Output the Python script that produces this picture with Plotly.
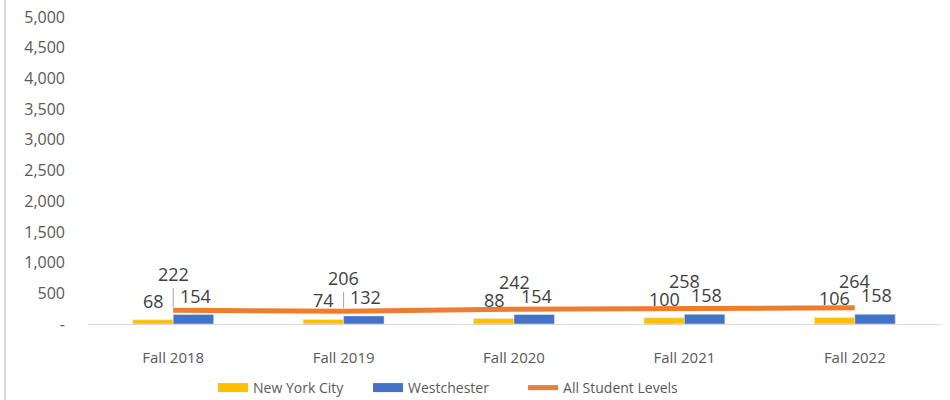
import plotly.graph_objects as go

categories = ["Fall 2018", "Fall 2019", "Fall 2020", "Fall 2021", "Fall 2022"]
nyc = [68, 74, 88, 100, 106]
westchester = [154, 132, 154, 158, 158]
all_levels = [222, 206, 242, 258, 264]
tick_vals = [0, 500, 1000, 1500, 2000, 2500, 3000, 3500, 4000, 4500, 5000]
tick_text = ["-"] + [f"{v:,}" for v in tick_vals[1:]]

FONT = "Open Sans"
LABEL = "#404040"
YELLOW, BLUE, ORANGE = "#FFC000", "#4472C4", "#ED7D31"

fig = go.Figure()
fig.add_trace(go.Bar(x=categories, y=nyc, name="New York City",
                     marker_color=YELLOW, hoverinfo="skip", showlegend=False))
fig.add_trace(go.Bar(x=categories, y=westchester, name="Westchester",
                     marker_color=BLUE, hoverinfo="skip", showlegend=False))
fig.add_trace(go.Scatter(x=categories, y=all_levels, name="All Student Levels",
                         mode="lines", line=dict(color=ORANGE, width=5),
                         hoverinfo="skip", showlegend=False))
# legend entries (rectangular swatches like the reference)
for name, col, w in [("New York City", YELLOW, 9), ("Westchester", BLUE, 9),
                     ("All Student Levels", ORANGE, 5)]:
    fig.add_trace(go.Scatter(x=[None], y=[None], name=name, mode="lines",
                             line=dict(color=col, width=w), hoverinfo="skip"))

ann = []
for i, c in enumerate(categories):
    ann.append(dict(x=c, y=nyc[i], text=str(nyc[i]), showarrow=False,
                    xshift=-20, yshift=19, yanchor="middle",
                    font=dict(family=FONT, size=18, color=LABEL)))
    ann.append(dict(x=c, y=westchester[i], text=str(westchester[i]), showarrow=False,
                    xshift=22, yshift=19, yanchor="middle",
                    font=dict(family=FONT, size=18, color=LABEL)))
    if i < 2:
        ann.append(dict(x=c, y=all_levels[i], text=str(all_levels[i]), showarrow=True,
                        ax=0, ay=-36 if i == 0 else -33, arrowhead=0, arrowwidth=1,
                        arrowcolor="#A6A6A6", standoff=3,
                        font=dict(family=FONT, size=18, color=LABEL)))
    else:
        ann.append(dict(x=c, y=all_levels[i], text=str(all_levels[i]), showarrow=False,
                        yshift=27, yanchor="middle",
                        font=dict(family=FONT, size=18, color=LABEL)))

fig.update_layout(
    width=950, height=400,
    margin=dict(l=88, r=10, t=17, b=76, autoexpand=False),
    paper_bgcolor="white", plot_bgcolor="white",
    barmode="group", bargap=0.525, bargroupgap=0,
    font=dict(family=FONT, color="#595959"),
    annotations=ann,
    showlegend=True,
    legend=dict(orientation="h", xref="container", yref="container",
                x=0.469, xanchor="center", y=0.03, yanchor="middle",
                font=dict(family=FONT, size=14, color="#595959"),
                entrywidth=110, tracegroupgap=0),
    shapes=[dict(type="line", xref="paper", yref="paper", x0=-0.0974, x1=-0.0974,
                 y0=-0.2476, y1=1.055, line=dict(color="#D9D9D9", width=2))],
)
fig.update_yaxes(range=[0, 5000], tickvals=tick_vals, ticktext=tick_text,
                 showgrid=False, zeroline=False, showline=False, automargin=False,
                 tickfont=dict(family=FONT, size=16, color="#595959"), ticklabelstandoff=22)
fig.update_xaxes(showline=True, linecolor="#D9D9D9", linewidth=1, showgrid=False,
                 automargin=False,
                 tickfont=dict(family=FONT, size=15, color="#595959"), ticks="",
                 ticklabelstandoff=20)

fig.write_html("out.html", config={"displayModeBar": False},
               post_script="document.body.style.margin='0px';")
